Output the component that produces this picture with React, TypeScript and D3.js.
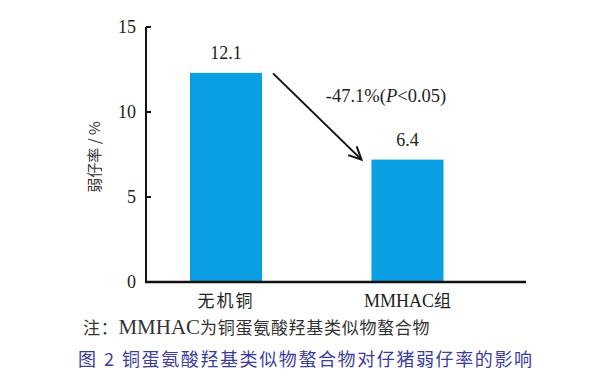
import React from "react";
import * as d3 from "d3";

const categories = ["无机铜", "MMHAC组"];
const barValues = [12.3, 7.2];
const barLabels = ["12.1", "6.4"];
const yTicks = [0, 5, 10, 15];
const changeLabel = "-47.1%";
const notePrefix = "注：";
const noteAbbr = "MMHAC";
const noteRest = "为铜蛋氨酸羟基类似物螯合物";
const captionFig = "图";
const captionNum = "2";
const captionText = "铜蛋氨酸羟基类似物螯合物对仔猪弱仔率的影响";

const W = 600, H = 382;
const left = 146, right = 526, top = 27, bottom = 282;

export default function App() {
  const y = d3.scaleLinear().domain([0, 15]).range([bottom, top]);
  const x = d3.scaleBand().domain(categories).range([190, 443.5]).paddingInner(0.603).paddingOuter(0);
  const serif = "'Liberation Serif', 'Times New Roman', serif";
  const cjk = "'Noto Sans CJK SC', sans-serif";
  const x0 = x(categories[0])! + x.bandwidth();
  const x1 = x(categories[1])!;
  const ay0 = y(barValues[0]);
  const ay1 = y(barValues[1]);
  const sx = x0 + 11, sy = ay0 + 0.5;
  const ex = x1 - 10, ey = ay1;
  const ang = Math.atan2(ey - sy, ex - sx);
  const ah = 14;
  const a1 = [ex - ah * Math.cos(ang - 0.45), ey - ah * Math.sin(ang - 0.45)];
  const a2 = [ex - ah * Math.cos(ang + 0.45), ey - ah * Math.sin(ang + 0.45)];
  return (
    <svg width={W} height={H} style={{ position: "absolute", left: 0, top: 0, background: "#fff" }}>
      {categories.map((c, i) => (
        <g key={c}>
          <rect x={x(c)} y={y(barValues[i])} width={x.bandwidth()} height={bottom - y(barValues[i])} fill="#099fe2" />
          <text x={x(c)! + x.bandwidth() / 2} y={y(barValues[i]) - 14} textAnchor="middle" fontFamily={serif} fontSize={18} fill="#222">{barLabels[i]}</text>
          <text x={x(c)! + x.bandwidth() / 2} y={307} textAnchor="middle" fontFamily={i === 0 ? cjk : serif} fontSize={i === 0 ? 17 : 18} letterSpacing={i === 0 ? 2 : 0} fill="#222">
            {i === 0 ? c : <>MMHAC<tspan fontFamily={cjk} fontSize={17}>组</tspan></>}
          </text>
        </g>
      ))}
      <line x1={left} x2={left} y1={top} y2={bottom} stroke="#111" strokeWidth={2} />
      <line x1={left - 1} x2={right} y1={bottom} y2={bottom} stroke="#111" strokeWidth={2.5} />
      {yTicks.map(t => (
        <g key={t}>
          <line x1={left} x2={left + 5} y1={y(t)} y2={y(t)} stroke="#111" strokeWidth={2} />
          <text x={136} y={y(t) + 6} textAnchor="end" fontFamily={serif} fontSize={18} fill="#222">{t}</text>
        </g>
      ))}
      <text transform={`translate(100,157) rotate(-90)`} textAnchor="middle" fontFamily={cjk} fontSize={15} fill="#333">弱仔率 / %</text>
      <line x1={sx} y1={sy} x2={ex} y2={ey} stroke="#111" strokeWidth={2} />
      <polyline points={`${a1[0]},${a1[1]} ${ex},${ey} ${a2[0]},${a2[1]}`} fill="none" stroke="#111" strokeWidth={2} />
      <text x={386} y={102} textAnchor="middle" fontFamily={serif} fontSize={18.5} fill="#222">
        {changeLabel}(<tspan fontStyle="italic">P</tspan>&lt;0.05)
      </text>
      <text x={83} y={334} fontFamily={cjk} fontSize={17} letterSpacing={0.7} fill="#333">
        {notePrefix}<tspan fontFamily={serif} fontSize={21} letterSpacing={0}>{noteAbbr}</tspan>{noteRest}
      </text>
      <text x={78} y={366} fontFamily={cjk} fontSize={18} fill="#3d3d9e">{captionFig}</text>
      <text x={104} y={366} fontFamily={cjk} fontSize={18} fill="#3d3d9e">{captionNum}</text>
      <text x={122} y={366} fontFamily={cjk} fontSize={18} letterSpacing={1.6} fill="#3d3d9e">{captionText}</text>
    </svg>
  );
}
